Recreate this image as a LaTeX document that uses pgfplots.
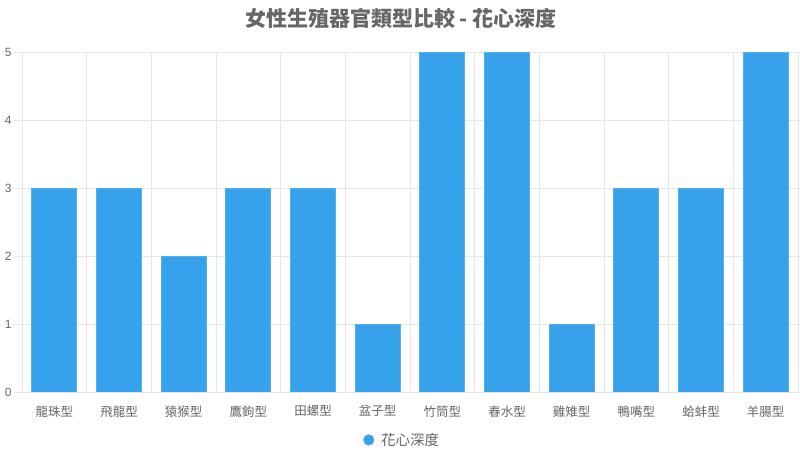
\documentclass[border=0pt]{standalone}
\usepackage{pgfplots}
\pgfplotsset{compat=1.18}
\usepackage{fontspec}
\setmainfont{Noto Sans CJK TC}
\newfontfamily\numfont{Liberation Sans}
\definecolor{barblue}{HTML}{36A2EB}
\definecolor{txtgray}{HTML}{666666}
\definecolor{gridgray}{HTML}{E6E6E6}
\pgfplotstableread{
x y
0 3
1 3
2 2
3 3
4 3
5 1
6 5
7 5
8 1
9 3
10 3
11 5
}\depthdata
\begin{document}
\begin{tikzpicture}
\useasboundingbox (0,0) rectangle (800bp,460bp);
\node[font=\fontsize{21bp}{24bp}\selectfont\bfseries, text=txtgray] at (401bp,442bp) {女性生殖器官類型比較 - 花心深度};
\begin{axis}[
  at={(22bp,68bp)}, anchor=south west,
  scale only axis, width=776bp, height=340bp,
  ymin=0, ymax=5, ytick={0,1,2,3,4,5},
  xmin=-0.5, xmax=11.5,
  xtick={0,...,11},
  xticklabels={龍珠型,飛龍型,猿猴型,鷹鉤型,田螺型,盆子型,竹筒型,春水型,雞雉型,鴨嘴型,蛤蚌型,羊腸型},
  minor xtick={-0.5,0.5,...,11.5},
  xminorgrids, ymajorgrids,
  grid style={gridgray, line width=0.8bp},
  minor grid style={gridgray, line width=0.8bp},
  axis line style={gridgray, line width=0.8bp},
  tick align=outside,
  major tick length=8bp, minor tick length=8bp,
  tick style={gridgray, line width=0.8bp},
  xtick style={draw=none},
  minor x tick style={gridgray, line width=0.8bp},
  ticklabel style={text=txtgray},
  xticklabel style={font=\fontsize{12.5bp}{14bp}\selectfont, yshift=-2bp},
  yticklabel style={font=\numfont\fontsize{12bp}{14bp}\selectfont, xshift=1bp},
  /pgf/number format/assume math mode=true,
  ybar, bar width=0.7,
  legend style={at={(0.49,-0.141)}, anchor=center, draw=none, fill=none,
    font=\fontsize{14.5bp}{16bp}\selectfont, text=txtgray},
  legend image code/.code={\fill[barblue] (0bp,0bp) circle (5bp); \path (10bp,0bp);},
  legend style={/tikz/every even column/.style={column sep=0bp}},
]
\addplot[fill=barblue, draw=barblue!85!white, line width=1bp] table[x=x,y=y] {\depthdata};
\addlegendentry{花心深度}
\end{axis}
\end{tikzpicture}
\end{document}
